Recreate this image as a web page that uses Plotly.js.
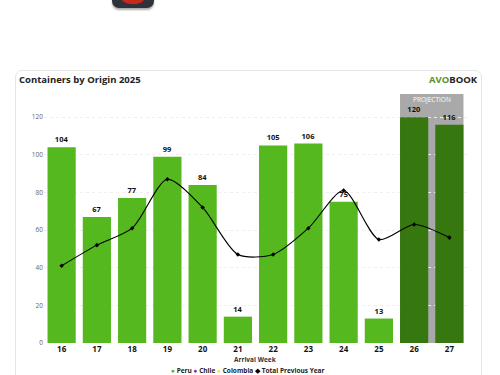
<!DOCTYPE html>
<html><head><meta charset="utf-8">
<script src="https://cdn.plot.ly/plotly-3.0.1.min.js"></script>
<style>
html,body{margin:0;padding:0;background:#fff;width:500px;height:375px;overflow:hidden;font-family:"Open Sans",sans-serif}
#panel{position:absolute;left:15px;top:70px;width:467px;height:320px;border:1px solid #e6e6e6;border-radius:7px;box-sizing:border-box}
#icon{position:absolute;left:112px;top:-12px;width:42px;height:20px;background:#2f3238;border-radius:7px;box-shadow:0 2px 2px #aaa}
#icon i{position:absolute;left:8px;top:0;width:26px;height:16px;background:#c9281a;border-radius:0 0 10px 10px}
#chart{position:absolute;left:0;top:0;width:500px;height:375px}
</style></head><body>
<div id="panel"></div><div id="icon"><i></i></div><div id="chart"></div>
<script>
const weeks=['16','17','18','19','20','21','22','23','24','25','26','27'];
const peru=[104,67,77,99,84,14,105,106,75,13,120,116];
const previous=[41,52,61,87,72,47,47,61,81,55,63,56];
const legendNames=['Peru','Chile','Colombia','Total Previous Year'];
const legendColors=['#54b81e','#7b2fa8','#f7e64a','#000'];
const legendGlyphs=['●','●','●','◆'];
const barColors=['#54b81e','#54b81e','#54b81e','#54b81e','#54b81e','#54b81e','#54b81e','#54b81e','#54b81e','#54b81e','#36780f','#36780f'];
const legendText=legendNames.map((n,i)=>'<span style="color:'+legendColors[i]+'">'+legendGlyphs[i]+'</span> <b>'+n+'</b>').join(' ');
const traces=[
{type:'bar',name:'Peru',x:weeks,y:peru,width:0.8,marker:{color:barColors},text:peru.map(String),textposition:'outside',cliponaxis:false,
 textfont:{family:'Open Sans',size:7.5,color:'#111',weight:700},hoverinfo:'skip'},
{type:'scatter',mode:'lines+markers',name:'Total Previous Year',x:weeks,y:previous,line:{color:'#000',width:1.1,shape:'spline',smoothing:0.75},marker:{color:'#000',size:3.5,symbol:'diamond'}}
];
const layout={
width:500,height:375,paper_bgcolor:'rgba(0,0,0,0)',plot_bgcolor:'rgba(0,0,0,0)',showlegend:false,
margin:{l:44,r:33,t:94,b:32},bargap:0.2,
font:{family:'Open Sans',color:'#333'},
title:{text:'<b>Containers by Origin 2025</b>',x:19/500,xanchor:'left',y:1-80/375,yanchor:'middle',font:{family:'Open Sans',size:9.5,color:'#222'}},
xaxis:{type:'category',range:[-0.5,11.5],tickfont:{size:8,color:'#111',weight:700},ticks:'',ticklen:0,showgrid:false,zeroline:false,showline:false,automargin:false},
yaxis:{range:[0,132.3],tickvals:[0,20,40,60,80,100,120],ticktext:['0','20','40','60','80','100','120'],tickfont:{size:6.5,color:'#666'},
 gridcolor:'#eeeeee',griddash:'dot',gridwidth:1,zeroline:false,showline:false,ticks:'',automargin:false},
shapes:[{type:'rect',layer:'between',xref:'x',yref:'paper',x0:9.6,x1:11.4,y0:0,y1:1,fillcolor:'#a9a9a9',line:{width:0}}],
annotations:[
{text:'PROJECTION',xref:'x',yref:'paper',x:10.5,y:1,yanchor:'top',yshift:1,showarrow:false,font:{size:6.5,color:'#fff'}},
{text:'<b><span style="color:#5e8f2a">AVO</span><span style="color:#222">BOOK</span></b>',xref:'paper',yref:'paper',x:1.03,xanchor:'right',y:1.058,yanchor:'middle',showarrow:false,font:{size:9.5,family:'Open Sans'}},
{text:'<b>Arrival Week</b>',xref:'paper',yref:'paper',x:0.5,xanchor:'center',y:-0.066,yanchor:'middle',showarrow:false,font:{size:6.5,color:'#333'}},
{text:legendText,xref:'paper',yref:'paper',x:0.482,xanchor:'center',y:-0.111,yanchor:'middle',showarrow:false,font:{size:6.5,color:'#222'}}
]};
Plotly.newPlot('chart',traces,layout,{displayModeBar:false,staticPlot:true});
</script></body></html>
